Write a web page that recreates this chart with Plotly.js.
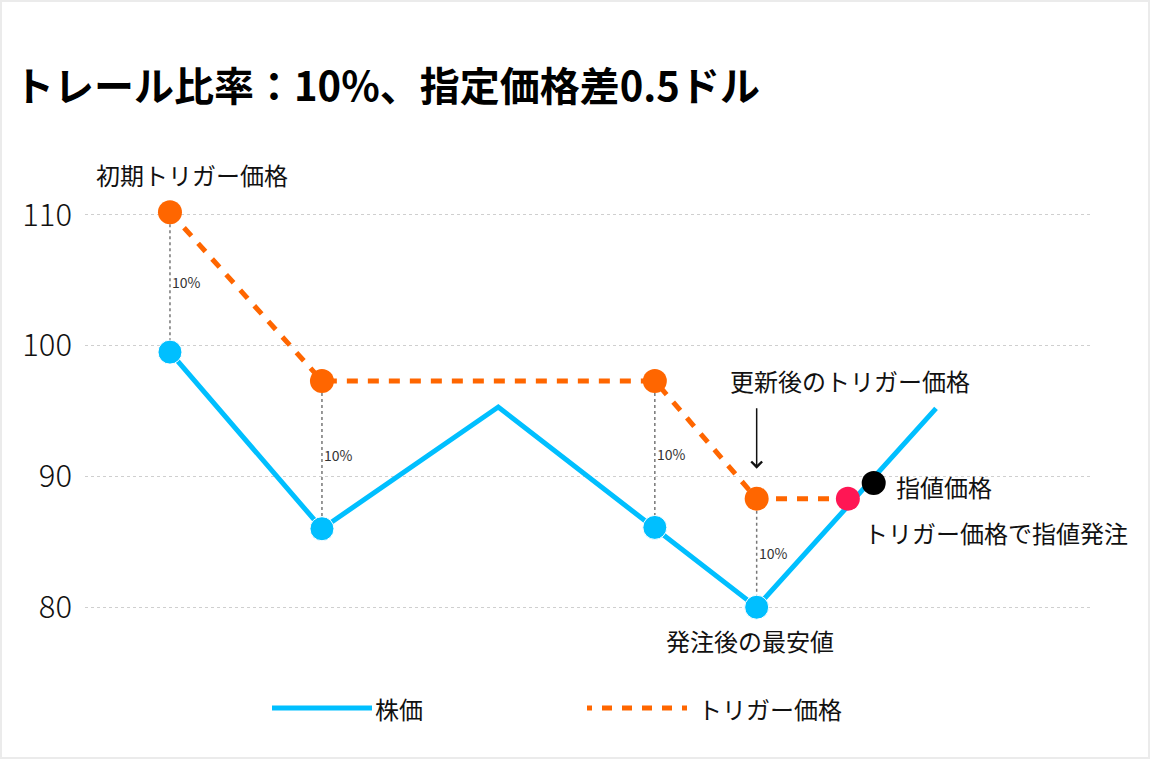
<!DOCTYPE html>
<html>
<head>
<meta charset="utf-8">
<script src="https://cdn.plot.ly/plotly-3.0.1.min.js"></script>
<style>
  body { margin: 0; background: #fff; }
  #chart { position: relative; width: 1150px; height: 759px; }
  #chart::after {
    content: ''; position: absolute; inset: 0;
    border: 2px solid #ebebeb; pointer-events: none;
  }
</style>
</head>
<body>
<div id="chart"></div>
<script>
// stock price path (day, price)
const days = [0, 10, 21.6, 31.9, 38.6, 50.4];
const stockPrice = [99.5, 86, 95.3, 86.1, 80, 95.2];
const stockMarked = [true, true, false, true, true, false];

// trailing trigger price
const triggerDays = [0, 10, 31.9, 38.6, 44.6];
const triggerPrice = [110.2, 97.3, 97.3, 88.3, 88.3];

// limit order price
const limitDays = [46.3];
const limitPrice = [89.5];

const yTicks = [80, 90, 100, 110];
const trailLabel = '10%';
const seriesNames = ['株価', 'トリガー価格'];

const BLUE = '#00bfff';
const ORANGE = '#ff6600';
const PINK = '#ff1654';
const FONT = '"Noto Sans CJK JP", "Noto Sans", sans-serif';

// plot area in pixels, used for the hand-made legend
const plotL = 85, plotR = 1090, plotT = 150, plotB = 650;
function px(x) { return (x - plotL) / (plotR - plotL); }
function py(y) { return (plotB - y) / (plotB - plotT); }

const lastTrig = triggerPrice.length - 1;

const traces = [
    {
        x: days, y: stockPrice,
        mode: 'lines+markers', type: 'scatter',
        line: { color: BLUE, width: 5 },
        marker: { color: BLUE, opacity: 1, size: stockMarked.map(m => m ? 24 : 0) },
        name: seriesNames[0]
    },
    {
        x: triggerDays, y: triggerPrice,
        mode: 'lines+markers', type: 'scatter',
        line: { color: ORANGE, width: 5, dash: '11px,10px' },
        marker: { color: triggerPrice.map((_, i) => i === lastTrig ? PINK : ORANGE), opacity: 1, size: 24 },
        name: seriesNames[1]
    },
    {
        x: limitDays, y: limitPrice,
        mode: 'markers', type: 'scatter',
        marker: { color: '#000', opacity: 1, size: 24 },
        name: '指値価格'
    }
];

// dotted links between trigger and stock price on the same day
const shapes = [];
const annotations = [];
triggerDays.forEach((d, i) => {
    const j = days.indexOf(d);
    if (j < 0) return;
    shapes.push({
        type: 'line', xref: 'x', yref: 'y', layer: 'below',
        x0: d, x1: d, y0: triggerPrice[i], y1: stockPrice[j],
        line: { color: '#777', width: 1.5, dash: 'dot' }
    });
    annotations.push({
        x: d, y: (triggerPrice[i] + stockPrice[j]) / 2,
        text: trailLabel, showarrow: false, xanchor: 'left', yanchor: 'middle',
        font: { family: FONT, size: 14, color: '#333' }
    });
});

const labelFont = { family: FONT, size: 24, color: '#111' };

annotations.push(
    {
        x: triggerDays[0], y: triggerPrice[0], text: '初期トリガー価格',
        showarrow: false, xshift: 22, yshift: 38, font: labelFont
    },
    {
        x: triggerDays[3], y: triggerPrice[3], text: '',
        showarrow: true, ax: 0, ay: -92, standoff: 30,
        arrowhead: 4, arrowsize: 1.4, arrowwidth: 1.5, arrowcolor: '#111'
    },
    {
        x: triggerDays[3], y: triggerPrice[3], text: '更新後のトリガー価格',
        showarrow: false, xshift: 93, yshift: 118, font: labelFont
    },
    {
        x: limitDays[0], y: limitPrice[0], text: '指値価格',
        showarrow: false, xanchor: 'left', xshift: 20, yshift: -4, font: labelFont
    },
    {
        x: triggerDays[lastTrig], y: triggerPrice[lastTrig], text: 'トリガー価格で指値発注',
        showarrow: false, xanchor: 'left', xshift: 14, yshift: -34, font: labelFont
    },
    {
        x: days[4], y: stockPrice[4], text: '発注後の最安値',
        showarrow: false, xshift: -7, yshift: -33, font: labelFont
    }
);

// legend drawn by hand, so the line samples can be long
shapes.push(
    {
        type: 'line', xref: 'paper', yref: 'paper',
        x0: px(272), x1: px(372), y0: py(708), y1: py(708),
        line: { color: BLUE, width: 5 }
    },
    {
        type: 'line', xref: 'paper', yref: 'paper',
        x0: px(587), x1: px(687), y0: py(708), y1: py(708),
        line: { color: ORANGE, width: 5, dash: '5px,10px,10px,10px,10px,10px,10px,10px,10px,10px,5px' }
    }
);
annotations.push(
    {
        xref: 'paper', yref: 'paper', x: px(373), y: py(708), text: seriesNames[0],
        showarrow: false, xanchor: 'left', yanchor: 'middle', font: labelFont
    },
    {
        xref: 'paper', yref: 'paper', x: px(696), y: py(708), text: seriesNames[1],
        showarrow: false, xanchor: 'left', yanchor: 'middle', font: labelFont
    }
);

const layout = {
    width: 1150, height: 759,
    margin: { l: plotL, r: 1150 - plotR, t: plotT, b: 759 - plotB },
    paper_bgcolor: '#fff', plot_bgcolor: '#fff',
    showlegend: false,
    title: {
        text: 'トレール比率：10%、指定価格差0.5ドル',
        xref: 'container', yref: 'container',
        x: 14 / 1150, xanchor: 'left', y: 1 - 87 / 759, yanchor: 'middle',
        font: { family: FONT, size: 40, color: '#000', weight: 'bold' }
    },
    xaxis: {
        range: [-5.59, 60.53], visible: false, showgrid: false, zeroline: false, fixedrange: true
    },
    yaxis: {
        range: [76.73, 114.95], tickvals: yTicks, ticks: '', ticklabelstandoff: 12,
        showline: false, zeroline: false,
        gridcolor: '#cfcfcf', griddash: 'dot', gridwidth: 1,
        tickfont: { family: FONT, size: 31, color: '#111', weight: 300 }, fixedrange: true
    },
    shapes: shapes,
    annotations: annotations
};

Plotly.newPlot('chart', traces, layout, { displayModeBar: false, staticPlot: true });
</script>
</body>
</html>
